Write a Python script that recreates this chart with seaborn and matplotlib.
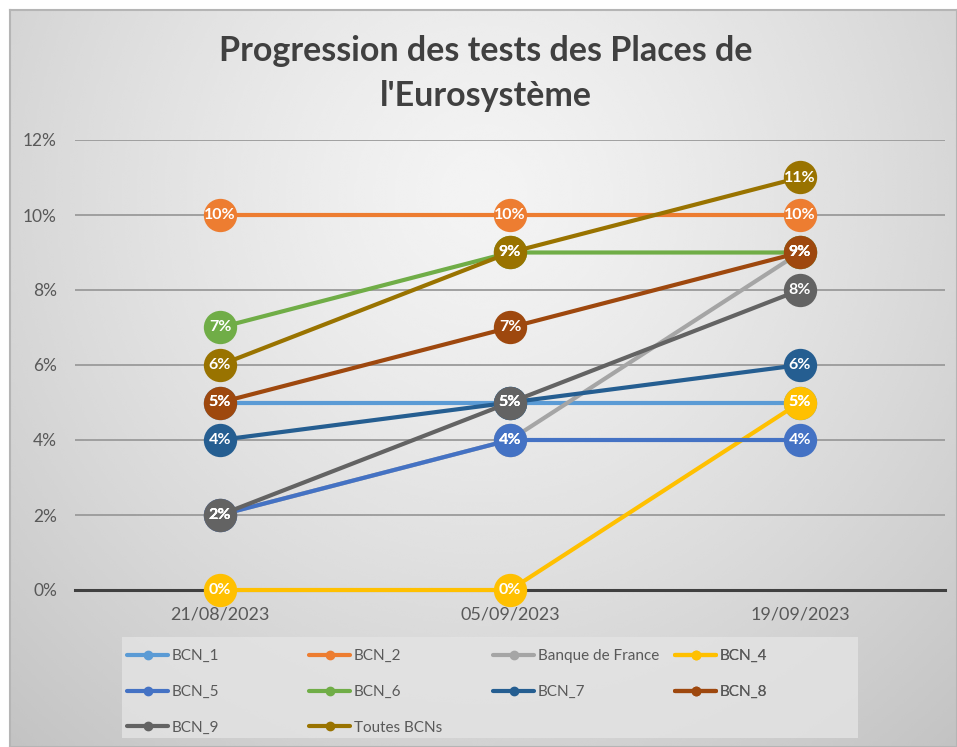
import matplotlib.pyplot as plt
import matplotlib.lines as mlines
import matplotlib.patches as mpatches
import numpy as np
import pandas as pd
import seaborn as sns

# Data
dates = ['21/08/2023', '05/09/2023', '19/09/2023']
series = ['BCN_1', 'BCN_2', 'Banque de France', 'BCN_4', 'BCN_5',
          'BCN_6', 'BCN_7', 'BCN_8', 'BCN_9', 'Toutes BCNs']
bcn_1 = [5, 5, 5]
bcn_2 = [10, 10, 10]
banque_de_france = [2, 4, 9]
bcn_4 = [0, 0, 5]
bcn_5 = [2, 4, 4]
bcn_6 = [7, 9, 9]
bcn_7 = [4, 5, 6]
bcn_8 = [5, 7, 9]
bcn_9 = [2, 5, 8]
toutes = [6, 9, 11]
values = [bcn_1, bcn_2, banque_de_france, bcn_4, bcn_5,
          bcn_6, bcn_7, bcn_8, bcn_9, toutes]
colors = ['#5B9BD5', '#ED7D31', '#A5A5A5', '#FFC000', '#4472C4',
          '#70AD47', '#255E91', '#9E480E', '#636363', '#997300']

df = pd.DataFrame({
    'date': dates * len(series),
    'serie': [s for s in series for _ in dates],
    'value': [v for vals in values for v in vals],
})

sns.set_theme(style='white')
plt.rcParams['font.family'] = ['Lato', 'DejaVu Sans']

fig = plt.figure(figsize=(9.57, 7.47), dpi=100)

# gradient background of the chart area
bg = fig.add_axes([10 / 957, 0, 947 / 957, 737 / 747], zorder=0)
yy, xx = np.mgrid[0:1:300j, 0:1:400j]
r = np.sqrt(((xx - 0.5) / 0.75) ** 2 + ((yy - 0.25) / 1.0) ** 2)
grad = 0.955 - 0.19 * np.clip(r, 0, 1.2) ** 1.3
bg.imshow(grad, cmap='gray', vmin=0, vmax=1, aspect='auto',
          extent=[0, 1, 0, 1], origin='upper', interpolation='bicubic')
bg.set_xticks([])
bg.set_yticks([])
for sp in bg.spines.values():
    sp.set_color('#b5b5b5')
    sp.set_linewidth(1.5)

ax = fig.add_axes([75 / 957, 157 / 747, 870 / 957, 450 / 747], zorder=1)
ax.patch.set_alpha(0)

sns.lineplot(data=df, x='date', y='value', hue='serie', hue_order=series,
             palette=colors, sort=False, marker='o', markersize=24,
             markeredgewidth=0, linewidth=3, legend=False, ax=ax,
             clip_on=False, zorder=3)

# data labels
for vals in values:
    for i, v in enumerate(vals):
        ax.text(i, v, f'{v}%', ha='center', va='center', color='white',
                fontsize=11.5, fontweight='bold', zorder=5)

ax.set_xlim(-0.5, 2.5)
ax.set_ylim(0, 12)
ax.set_yticks(range(0, 13, 2))
ax.set_yticklabels([f'{t}%' for t in range(0, 13, 2)])
ax.set_xticks(range(len(dates)))
ax.set_xticklabels(dates)
ax.set_xticks([-0.5, 0.5, 1.5, 2.5], minor=True)
ax.tick_params(axis='y', length=0, pad=13, labelsize=12.5, labelcolor='#595959')
ax.tick_params(axis='x', which='major', length=0, pad=12, labelsize=13,
               labelcolor='#595959')
ax.tick_params(axis='x', which='minor', direction='in', length=5, width=1.5,
               color='#404040')
ax.yaxis.grid(True, color='#9a9a9a', linewidth=1.3)
ax.set_axisbelow(True)
ax.set_xlabel('')
ax.set_ylabel('')
for side in ['top', 'left', 'right']:
    ax.spines[side].set_visible(False)
ax.spines['bottom'].set_color('#404040')
ax.spines['bottom'].set_linewidth(2.2)

# title
fig.text(0.508, 0.902, "Progression des tests des Places de\nl'Eurosystème",
         ha='center', va='center', fontsize=24.5, fontweight='bold',
         color='#404040', linespacing=1.5)

# legend box (Excel-like equal width columns, row-major)
box = mpatches.Rectangle((47 / 870, -148 / 450), 736 / 870, 101 / 450,
                         transform=ax.transAxes, clip_on=False,
                         facecolor='#e4e4e4', edgecolor='none', alpha=0.8,
                         zorder=0)
ax.add_patch(box)

columns = [[0, 4, 8], [1, 5, 9], [2, 6], [3, 7]]
col_x = [127, 309, 493, 675]
for cols, x_px in zip(columns, col_x):
    handles = [mlines.Line2D([], [], color=colors[k], linewidth=3, marker='o',
                             markersize=6) for k in cols]
    labels = [series[k] for k in cols]
    leg = ax.legend(handles, labels, loc='upper left',
                    bbox_to_anchor=((x_px - 75) / 870, -59 / 450),
                    borderaxespad=0, borderpad=0, frameon=False, fontsize=11,
                    handlelength=2.7, handletextpad=0.25, labelspacing=1.43)
    for t in leg.get_texts():
        t.set_color('#595959')
    ax.add_artist(leg)

fig.savefig('out.png', dpi=100)
